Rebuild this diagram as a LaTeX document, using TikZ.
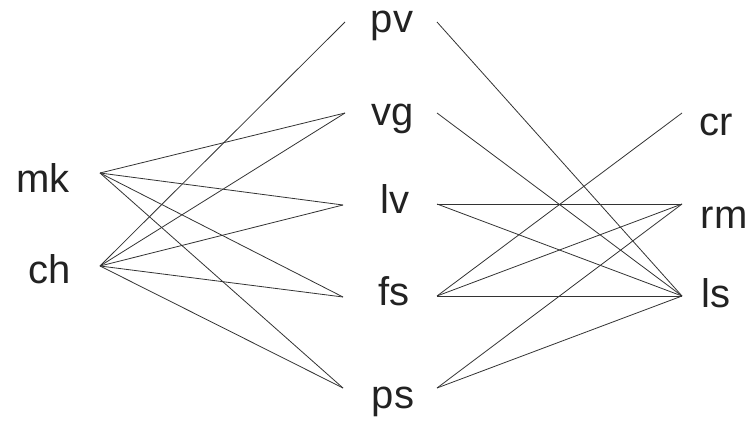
\documentclass[tikz,border=0pt]{standalone}
\usepackage{fontspec}
\setmainfont{Liberation Sans}
\definecolor{inkc}{HTML}{222222}
\definecolor{edgec}{HTML}{333333}
\begin{document}
\begin{tikzpicture}[x=1pt,y=-1pt,
  lbl/.style={anchor=base,inner sep=0pt,text=inkc,font=\fontsize{40}{48}\selectfont},
  link/.style={draw=edgec,line width=0.8pt}]
\useasboundingbox (0,0) rectangle (750,421);
% labels
\node[lbl] (mkt) at (43,192) {mk};
\node[lbl] (cht) at (50,283) {ch};
\node[lbl] (pvt) at (392,32) {pv};
\node[lbl] (vgt) at (393,125) {vg};
\node[lbl] (lvt) at (395,213) {lv};
\node[lbl] (fst) at (394,305) {fs};
\node[lbl] (pst) at (393,408) {ps};
\node[lbl] (crt) at (716,135) {cr};
\node[lbl] (rmt) at (724,228) {rm};
\node[lbl] (lst) at (716,307) {ls};
% connection points
\coordinate (mk) at (100,173);
\coordinate (ch) at (100,266);
\coordinate (pvL) at (345,22);
\coordinate (vgL) at (345,113);
\coordinate (lvL) at (343,205);
\coordinate (fsL) at (343,297);
\coordinate (psL) at (343,388);
\coordinate (pvR) at (437,22);
\coordinate (vgR) at (437,113);
\coordinate (lvR) at (437,204);
\coordinate (fsR) at (437,296);
\coordinate (psR) at (437,388);
\coordinate (cr) at (682,113);
\coordinate (rm) at (682,204);
\coordinate (ls) at (682,296);
% left links
\draw[link] (mk) -- (vgL);
\draw[link] (mk) -- (lvL);
\draw[link] (mk) -- (fsL);
\draw[link] (mk) -- (psL);
\draw[link] (ch) -- (pvL);
\draw[link] (ch) -- (vgL);
\draw[link] (ch) -- (lvL);
\draw[link] (ch) -- (fsL);
\draw[link] (ch) -- (psL);
% right links
\draw[link] (pvR) -- (ls);
\draw[link] (vgR) -- (ls);
\draw[link] (lvR) -- (rm);
\draw[link] (lvR) -- (ls);
\draw[link] (fsR) -- (cr);
\draw[link] (fsR) -- (rm);
\draw[link] (fsR) -- (ls);
\draw[link] (psR) -- (rm);
\draw[link] (psR) -- (ls);
\end{tikzpicture}
\end{document}
